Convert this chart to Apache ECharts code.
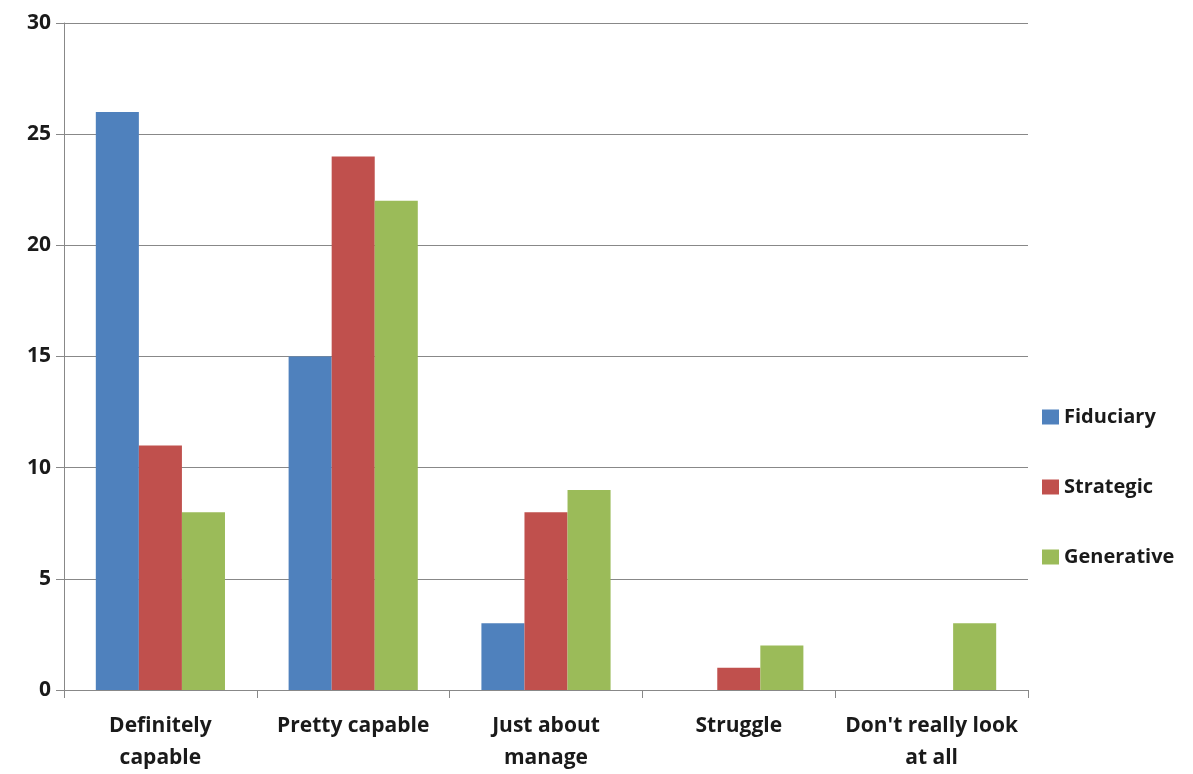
<!DOCTYPE html>
<html><head><meta charset="utf-8">
<script src="https://cdn.jsdelivr.net/npm/echarts@6/dist/echarts.min.js"></script>
<style>html,body{margin:0;padding:0;background:#fff}#c{width:1193px;height:774px}</style>
</head><body><div id="c"></div>
<script>
const categories = ["Definitely\ncapable", "Pretty capable", "Just about\nmanage", "Struggle", "Don't really look\nat all"];
const seriesNames = ["Fiduciary", "Strategic", "Generative"];
const fiduciary = [26, 15, 3, 0, 0];
const strategic = [11, 24, 8, 1, 0];
const generative = [8, 22, 9, 2, 3];
const yTicks = [0, 5, 10, 15, 20, 25, 30];
const colors = ["#4F81BD", "#C0504D", "#9BBB59"];
const values = [fiduciary, strategic, generative];

const font = "'Open Sans', sans-serif";
const chart = echarts.init(document.getElementById('c'), null, {renderer: 'canvas'});
chart.setOption({
  animation: false,
  color: colors,
  grid: {left: 64, right: 165, top: 23, bottom: 81, containLabel: false},
  legend: {
    orient: 'vertical', left: 1037, top: 402, itemGap: 50,
    icon: 'rect', itemWidth: 17, itemHeight: 15,
    textStyle: {fontFamily: font, fontSize: 20, fontWeight: 'bold', color: '#1a1a1a'},
    data: seriesNames
  },
  xAxis: {
    type: 'category', data: categories,
    axisLine: {lineStyle: {color: '#888', width: 1}},
    axisTick: {show: true, length: 8, lineStyle: {color: '#888'}},
    axisLabel: {fontFamily: font, fontSize: 21, fontWeight: 'bold', color: '#1a1a1a', lineHeight: 32, margin: 20, interval: 0}
  },
  yAxis: {
    type: 'value', min: yTicks[0], max: yTicks[yTicks.length-1], interval: 5,
    axisLine: {show: true, lineStyle: {color: '#888', width: 1}},
    axisTick: {show: true, length: 8, lineStyle: {color: '#888'}},
    splitLine: {lineStyle: {color: '#888', width: 1}},
    axisLabel: {fontFamily: font, fontSize: 21, fontWeight: 'bold', color: '#1a1a1a', margin: 13}
  },
  series: seriesNames.map((n, i) => ({
    name: n, type: 'bar', data: values[i],
    barGap: '0%', barCategoryGap: '33%',
    itemStyle: {color: colors[i]}
  }))
});
</script></body></html>
